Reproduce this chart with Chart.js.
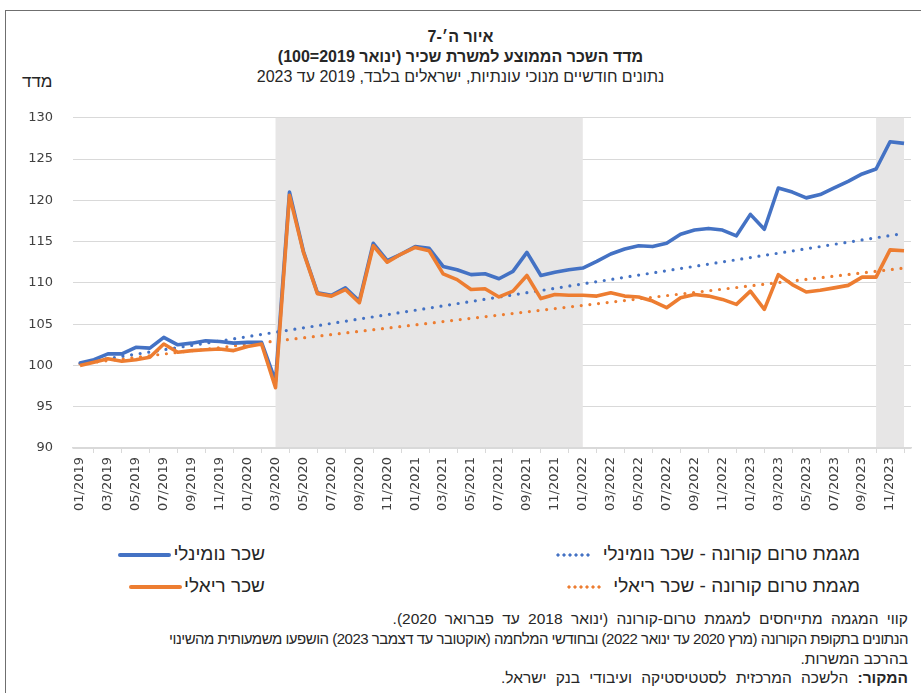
<!DOCTYPE html>
<html lang="he">
<head>
<meta charset="utf-8">
<script src="https://cdn.jsdelivr.net/npm/chart.js@4.4.1/dist/chart.umd.min.js"></script>
<style>
  body { margin: 0; width: 921px; height: 693px; position: relative; overflow: hidden; background: #fff;
         font-family: "Liberation Sans", Arial, sans-serif; color: #262626; }
  .frame { position: absolute; left: 5px; top: 10px; width: 930px; height: 700px;
           border-left: 1px solid #6f6f6f; border-top: 1px solid #6f6f6f; }
  .t { position: absolute; left: 0; width: 921px; text-align: center; direction: rtl; white-space: nowrap; }
  .lg { position: absolute; direction: rtl; white-space: nowrap; font-size: 19px; color: #262626; }
  .solid { display: inline-block; width: 53px; height: 4px; border-radius: 2px; vertical-align: middle; margin-right: 2px; }
  .dots { display: inline-block; width: 36px; height: 4px; vertical-align: middle; margin-right: 6px;
          background-size: 6px 4px; background-repeat: repeat-x; }
  .note { position: absolute; right: 13px; direction: rtl; white-space: nowrap; font-size: 15.5px; color: #262626; }
  #wrap { position: absolute; left: 0; top: 90px; width: 921px; height: 450px; }
</style>
</head>
<body>
<div class="frame"></div>
<div class="t" style="top:28px;font-size:16px;font-weight:bold;">איור ה׳-7</div>
<div class="t" style="top:48px;font-size:16px;font-weight:bold;">מדד השכר הממוצע למשרת שכיר (ינואר 2019=100)</div>
<div class="t" style="top:68px;font-size:16px;">נתונים חודשיים מנוכי עונתיות, ישראלים בלבד, 2019 עד 2023</div>
<div style="position:absolute;left:22px;top:72px;font-size:17px;direction:rtl;">מדד</div>

<div id="wrap"><canvas id="chart" width="921" height="450"></canvas></div>

<div class="lg" style="right:61px;top:543px;">מגמת טרום קורונה - שכר נומינלי <span class="dots" style="background-image:radial-gradient(circle,#4472C4 1.4px,transparent 1.8px);"></span></div>
<div class="lg" style="right:61px;top:575px;">מגמת טרום קורונה - שכר ריאלי <span class="dots" style="background-image:radial-gradient(circle,#ED7D31 1.4px,transparent 1.8px);"></span></div>
<div class="lg" style="right:656px;top:543px;">שכר נומינלי<span class="solid" style="background:#4472C4;"></span></div>
<div class="lg" style="right:656px;top:575px;">שכר ריאלי<span class="solid" style="background:#ED7D31;"></span></div>

<div class="note" style="top:610px;word-spacing:4px;">קווי המגמה מתייחסים למגמת טרום-קורונה (ינואר 2018 עד פברואר 2020).</div>
<div class="note" style="top:630px;font-size:15px;letter-spacing:-0.5px;">הנתונים בתקופת הקורונה (מרץ 2020 עד ינואר 2022) ובחודשי המלחמה (אוקטובר עד דצמבר 2023) הושפעו משמעותית מהשינוי</div>
<div class="note" style="top:650px;">בהרכב המשרות.</div>
<div class="note" style="top:669px;word-spacing:5px;"><b>המקור:</b> הלשכה המרכזית לסטטיסטיקה ועיבודי בנק ישראל.</div>

<script>
const months = [
  '01/2019','02/2019','03/2019','04/2019','05/2019','06/2019','07/2019','08/2019','09/2019','10/2019','11/2019','12/2019',
  '01/2020','02/2020','03/2020','04/2020','05/2020','06/2020','07/2020','08/2020','09/2020','10/2020','11/2020','12/2020',
  '01/2021','02/2021','03/2021','04/2021','05/2021','06/2021','07/2021','08/2021','09/2021','10/2021','11/2021','12/2021',
  '01/2022','02/2022','03/2022','04/2022','05/2022','06/2022','07/2022','08/2022','09/2022','10/2022','11/2022','12/2022',
  '01/2023','02/2023','03/2023','04/2023','05/2023','06/2023','07/2023','08/2023','09/2023','10/2023','11/2023','12/2023'
];

// שכר נומינלי
const nominal = [
  100.3, 100.7, 101.4, 101.4, 102.2, 102.1, 103.4, 102.5, 102.7, 103.0, 102.9, 102.7,
  102.8, 102.8, 98.1, 121.0, 113.8, 108.8, 108.5, 109.4, 107.8, 114.8, 112.7, 113.5,
  114.4, 114.2, 112.0, 111.6, 111.0, 111.1, 110.5, 111.4, 113.7, 110.9, 111.3, 111.6,
  111.8, 112.6, 113.5, 114.1, 114.5, 114.4, 114.8, 115.9, 116.4, 116.6, 116.4, 115.7,
  118.3, 116.5, 121.5, 121.0, 120.3, 120.7, 121.5, 122.3, 123.2, 123.8, 127.1, 126.9
];

// שכר ריאלי
const real = [
  100.0, 100.4, 100.8, 100.5, 100.7, 101.0, 102.6, 101.6, 101.8, 101.9, 102.0, 101.8,
  102.3, 102.6, 97.3, 120.6, 113.7, 108.7, 108.4, 109.2, 107.6, 114.5, 112.5, 113.5,
  114.3, 113.9, 111.1, 110.4, 109.2, 109.3, 108.3, 109.0, 110.9, 108.1, 108.6, 108.5,
  108.5, 108.4, 108.8, 108.4, 108.3, 107.8, 107.0, 108.2, 108.6, 108.4, 108.0, 107.4,
  109.0, 106.8, 111.0, 109.8, 108.9, 109.1, 109.4, 109.7, 110.7, 110.7, 114.0, 113.9
];

// pre-covid trend lines: first and last month values
const trendNominal = [100.3, 116.0];
const trendReal = [100.2, 111.8];

// shaded periods (covid, war)
const shaded = [['03/2020', '01/2022'], ['10/2023', '12/2023']];

const yTicks = [90, 95, 100, 105, 110, 115, 120, 125, 130];

const blue = '#4472C4';
const orange = '#ED7D31';

const shadePlugin = {
  id: 'shade',
  beforeDatasetsDraw(chart) {
    const { ctx, chartArea, scales } = chart;
    ctx.save();
    ctx.fillStyle = '#e7e6e6';
    shaded.forEach(function (p) {
      const x1 = scales.x.getPixelForValue(months.indexOf(p[0]));
      const x2 = scales.x.getPixelForValue(months.indexOf(p[1]));
      ctx.fillRect(x1, chartArea.top, x2 - x1, chartArea.bottom - chartArea.top - 1);
    });
    ctx.restore();
  }
};

const trendPoints = function (t) {
  return [{ x: months[0], y: t[0] }, { x: months[months.length - 1], y: t[1] }];
};

new Chart(document.getElementById('chart'), {
  type: 'line',
  data: {
    labels: months,
    datasets: [
      { label: 'שכר ריאלי', data: real, borderColor: orange, borderWidth: 3.6, order: 0 },
      { label: 'שכר נומינלי', data: nominal, borderColor: blue, borderWidth: 3.6, order: 1 },
      { label: 'מגמת טרום קורונה - שכר נומינלי', data: trendPoints(trendNominal), borderColor: blue,
        borderWidth: 3.2, borderDash: [0, 8.7], borderCapStyle: 'round', order: 2 },
      { label: 'מגמת טרום קורונה - שכר ריאלי', data: trendPoints(trendReal), borderColor: orange,
        borderWidth: 3.2, borderDash: [0, 8.7], borderCapStyle: 'round', order: 3 }
    ]
  },
  options: {
    responsive: false,
    animation: false,
    devicePixelRatio: 1,
    layout: { padding: { top: 8, right: 10, left: 0, bottom: 0 } },
    elements: { point: { radius: 0 }, line: { tension: 0, borderJoinStyle: 'round' } },
    plugins: { legend: { display: false }, tooltip: { enabled: false } },
    scales: {
      x: {
        offset: true,
        grid: { offset: true, drawOnChartArea: false, drawTicks: true, tickLength: 5, color: '#d9d9d9' },
        border: { color: '#d9d9d9', width: 1.5 },
        ticks: {
          autoSkip: false, maxRotation: 90, minRotation: 90, padding: 4,
          color: '#404040', font: { family: 'DejaVu Sans', size: 13 },
          callback: function (v, i) { return i % 2 === 0 ? months[i] : null; }
        },
        afterFit: function (s) { s.height = 92; }
      },
      y: {
        min: 90, max: 130,
        afterBuildTicks: function (s) { s.ticks = yTicks.map(function (v) { return { value: v }; }); },
        grid: { color: '#d9d9d9', drawTicks: false },
        border: { display: false },
        ticks: { padding: 20, color: '#404040', font: { family: 'DejaVu Sans', size: 13 } },
        afterFit: function (s) { s.width = 73; }
      }
    }
  },
  plugins: [shadePlugin]
});
</script>
</body>
</html>
